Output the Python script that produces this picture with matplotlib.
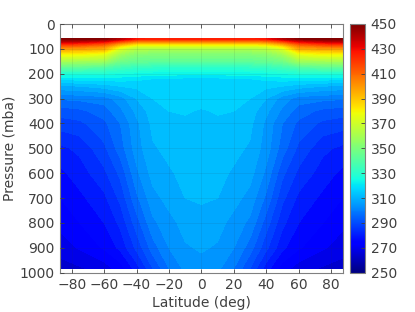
import numpy as np
import matplotlib
matplotlib.use('Agg')
import matplotlib.pyplot as plt

lat = [-87, -75, -60, -50, -40, -30, -20, -10, 0, 10, 20, 30, 40, 50, 60, 75, 87]
pres = [60, 70, 80, 90, 100, 120, 150, 175, 200, 220, 250, 300, 350, 400, 500, 600, 700, 800, 900, 982]

# potential temperature (K), one row per pressure level
theta = [
    [450, 450, 448, 440, 427, 425, 425, 425, 425, 425, 425, 425, 428, 440, 448, 450, 450],
    [440, 438, 432, 418, 406, 405, 405, 405, 405, 405, 405, 405, 407, 418, 432, 438, 440],
    [424, 422, 415, 398, 386, 385, 385, 385, 385, 385, 385, 385, 388, 398, 415, 422, 424],
    [410, 408, 403, 382, 371, 370, 370, 370, 370, 370, 370, 370, 373, 382, 403, 408, 410],
    [398, 397, 395, 372, 363, 362, 362, 362, 362, 362, 362, 362, 364, 372, 395, 397, 398],
    [380, 380, 376, 360, 353, 352, 352, 352, 352, 352, 352, 352, 354, 360, 376, 380, 380],
    [360, 359, 358, 347, 344, 343, 343, 343, 343, 343, 343, 343, 344, 347, 358, 359, 360],
    [342, 342, 339, 335, 332, 331, 330, 330, 330, 330, 330, 331, 332, 335, 339, 342, 342],
    [328, 328, 327, 326, 325, 324, 324, 323, 323, 323, 324, 324, 325, 326, 327, 328, 328],
    [319, 320, 320, 320, 319, 318, 318, 317, 317, 317, 318, 318, 319, 320, 320, 320, 319],
    [309, 310, 312, 314, 315, 316, 316, 316, 316, 316, 316, 316, 315, 314, 312, 310, 309],
    [298.5, 299, 300, 304, 310, 314, 315, 316, 316, 316, 315, 314, 310, 304, 300, 299, 298.5],
    [292, 293, 296, 301, 307, 312, 314, 314.5, 313.5, 314.5, 314, 312, 307, 301, 296, 293, 292],
    [288, 289, 293, 298, 305, 311, 313, 313, 313, 313, 313, 311, 305, 298, 293, 289, 288],
    [281, 283, 289, 296, 304, 309.5, 311, 312, 312.5, 312, 311, 309.5, 304, 296, 289, 283, 281],
    [277, 280, 285, 291, 301, 307.5, 309.5, 311, 312, 311, 309.5, 307.5, 301, 291, 285, 280, 277],
    [274, 277, 281, 287, 297, 304.5, 307.5, 310, 310.5, 310, 307.5, 304.5, 297, 287, 281, 277, 274],
    [271, 274, 278, 283, 292, 301, 304.5, 307.5, 308.5, 307.5, 304.5, 301, 292, 283, 278, 274, 271],
    [268, 270.5, 274.5, 279, 287, 296, 302, 305.5, 306.5, 305.5, 302, 296, 287, 279, 274.5, 270.5, 268],
    [264, 265.5, 268, 272, 280, 290, 298, 303, 304.5, 303, 298, 290, 280, 272, 268, 265.5, 264],
]

ink = '#404040'
plt.rcParams['font.size'] = 10
plt.rcParams['text.color'] = ink
plt.rcParams['axes.labelcolor'] = ink

fig = plt.figure(figsize=(4.15, 3.12), dpi=100)
ax = fig.add_axes([60 / 415, 1 - 272.7 / 312, 282.7 / 415, 248.7 / 312])
cax = fig.add_axes([350 / 415, 1 - 272.7 / 312, 15 / 415, 248.7 / 312])

levels = np.concatenate([np.arange(250, 326, 4), np.arange(326, 452, 2)])
cs = ax.contourf(lat, pres, theta, levels=levels, cmap='jet', vmin=250, vmax=450)

ax.set_xlim(-87.2, 87.2)
ax.set_ylim(1000, 0)
ax.set_xticks(np.arange(-80, 81, 20))
ax.set_yticks(np.arange(0, 1001, 100))
ax.grid(True, color='#303030', alpha=0.1, lw=0.6)
ax.set_axisbelow(False)
ax.tick_params(direction='in', length=3, width=0.6, colors=ink, pad=4, top=True)
for s in ax.spines.values():
    s.set_color('#808080')
    s.set_linewidth(0.8)
ax.set_xlabel('Latitude (deg)', labelpad=3)
ax.set_ylabel('Pressure (mba)', labelpad=2)

sm = plt.cm.ScalarMappable(norm=plt.Normalize(250, 450), cmap='jet')
cb = fig.colorbar(sm, cax=cax, ticks=np.arange(250, 451, 20))
cb.ax.tick_params(direction='in', length=3, width=0.6, colors=ink, pad=4)
cb.outline.set_edgecolor('#808080')
cb.outline.set_linewidth(0.8)

fig.savefig('out.png', dpi=100)
